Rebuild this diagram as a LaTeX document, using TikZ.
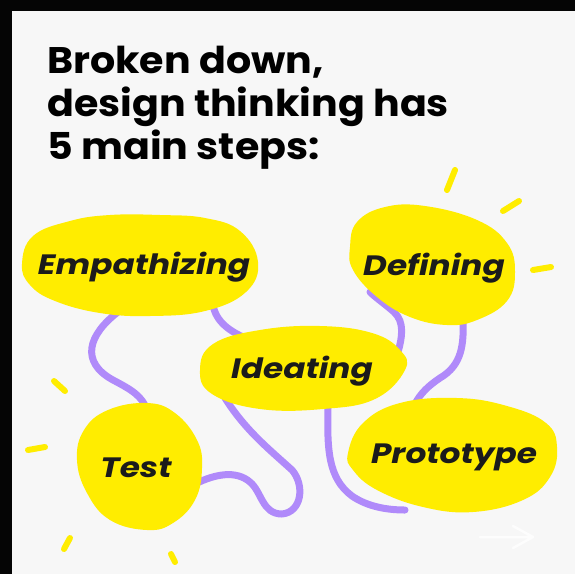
\documentclass[tikz,border=0pt]{standalone}
\usepackage{fontspec}
\newfontfamily\headfont{Poppins}[FakeStretch=1.07]
\newfontfamily\stepfont{Poppins}[FakeStretch=1.17]
\definecolor{paper}{RGB}{247,247,247}
\definecolor{frame}{RGB}{5,5,5}
\definecolor{blob}{RGB}{255,237,0}
\definecolor{wire}{RGB}{176,138,250}
\definecolor{ink}{RGB}{27,27,27}
\definecolor{ghost}{RGB}{253,253,253}
\tikzset{
  wire/.style={draw=wire, line width=7pt, line cap=round, line join=round},
  blobfill/.style={fill=blob, draw=none},
  ray/.style={draw=blob, line width=6pt, line cap=round},
  steplabel/.style={text=ink, inner sep=0pt, anchor=base, font=\stepfont\bfseries\itshape\fontsize{28}{30}\selectfont},
  headline/.style={text=black, inner sep=0pt, anchor=base west, font=\headfont\bfseries\fontsize{37}{40}\selectfont},
}
\begin{document}
\begin{tikzpicture}[x=1pt,y=-1pt]
  % canvas and dark frame on top and left
  \useasboundingbox (0,0) rectangle (575,574);
  \fill[frame] (0,0) rectangle (575,574);
  \fill[paper] (12,11) rectangle (575,574);

  % heading
  \node[headline] (h1) at (47,73)  {Broken down,};
  \node[headline] (h2) at (47,116) {design thinking has};
  \node[headline] (h3) at (47,159) {5 main steps:};

  % connector end points
  \coordinate (e1) at (118,312);  \coordinate (t1) at (147,410);
  \coordinate (e2) at (213,305);  \coordinate (i1) at (250,340);
  \coordinate (i2) at (225,398);  \coordinate (t2) at (195,484);
  \coordinate (i3) at (398,352);  \coordinate (d1) at (370,292);
  \coordinate (d2) at (463,318);  \coordinate (p1) at (415,404);
  \coordinate (i4) at (328,405);  \coordinate (p2) at (405,510);

  % connectors
  \draw[wire] (e1) .. controls (88,335) and (80,362) .. (113,380)
              .. controls (132,390) and (142,396) .. (t1);
  \draw[wire] (e2) .. controls (216,322) and (230,332) .. (i1);
  \draw[wire] (i2) .. controls (245,430) and (270,450) .. (292,470)
              .. controls (305,485) and (302,512) .. (282,514)
              .. controls (262,514) and (262,492) .. (250,482)
              .. controls (236,470) and (215,474) .. (t2);
  \draw[wire] (i3) .. controls (402,338) and (405,322) .. (394,312)
              .. controls (385,304) and (376,298) .. (d1);
  \draw[wire] (d2) .. controls (464,345) and (462,365) .. (440,378)
              .. controls (428,386) and (420,394) .. (p1);
  \draw[wire] (i4) .. controls (327,450) and (328,478) .. (352,496)
              .. controls (368,507) and (388,510) .. (p2);

  % yellow blobs
  \fill[blobfill] plot[smooth cycle, tension=0.7] coordinates {
    (22,264) (33,236) (70,221) (110,215) (160,215) (205,218) (240,231)
    (258,262) (246,292) (205,311) (150,316) (100,313) (55,301) (30,285)};
  \fill[blobfill] plot[smooth cycle, tension=0.7] coordinates {
    (200,370) (213,344) (260,330) (320,326) (372,333) (400,350) (405,370)
    (375,399) (323,409) (260,409) (212,394)};
  \fill[blobfill] plot[smooth cycle, tension=0.7] coordinates {
    (357,222) (385,207) (425,206) (477,220) (507,243) (515,272) (507,301)
    (477,320) (447,325) (410,317) (377,297) (353,270) (350,247)};
  \fill[blobfill] plot[smooth cycle, tension=0.7] coordinates {
    (348,453) (363,423) (400,403) (457,398) (507,406) (546,423) (557,447)
    (550,477) (523,500) (473,512) (423,507) (377,490) (353,470)};
  \fill[blobfill] plot[smooth cycle, tension=0.7] coordinates {
    (147,403) (175,413) (197,440) (202,468) (195,500) (173,523) (147,530)
    (110,520) (87,493) (77,460) (84,430) (108,410)};

  % rays
  \draw[ray] (455,170) -- (447,190);
  \draw[ray] (503,211) -- (519,201);
  \draw[ray] (533,270) -- (551,267);
  \draw[ray] (54,381) -- (65,391);
  \draw[ray] (28,450) -- (45,447);
  \draw[ray] (64,549) -- (70,538);
  \draw[ray] (171,554) -- (175,562);

  % faint arrow in the corner
  \draw[ghost, line width=2.5pt, line cap=round, line join=round]
    (480,537) -- (532,537) (513,526) -- (533,537) -- (513,548);

  % step labels
  \node[steplabel] (emp) at (144,274) {Empathizing};
  \node[steplabel] (ide) at (302,378) {Ideating};
  \node[steplabel] (def) at (434,275) {Defining};
  \node[steplabel] (pro) at (454,463) {Prototype};
  \node[steplabel] (tst) at (136,477) {Test};
\end{tikzpicture}
\end{document}
